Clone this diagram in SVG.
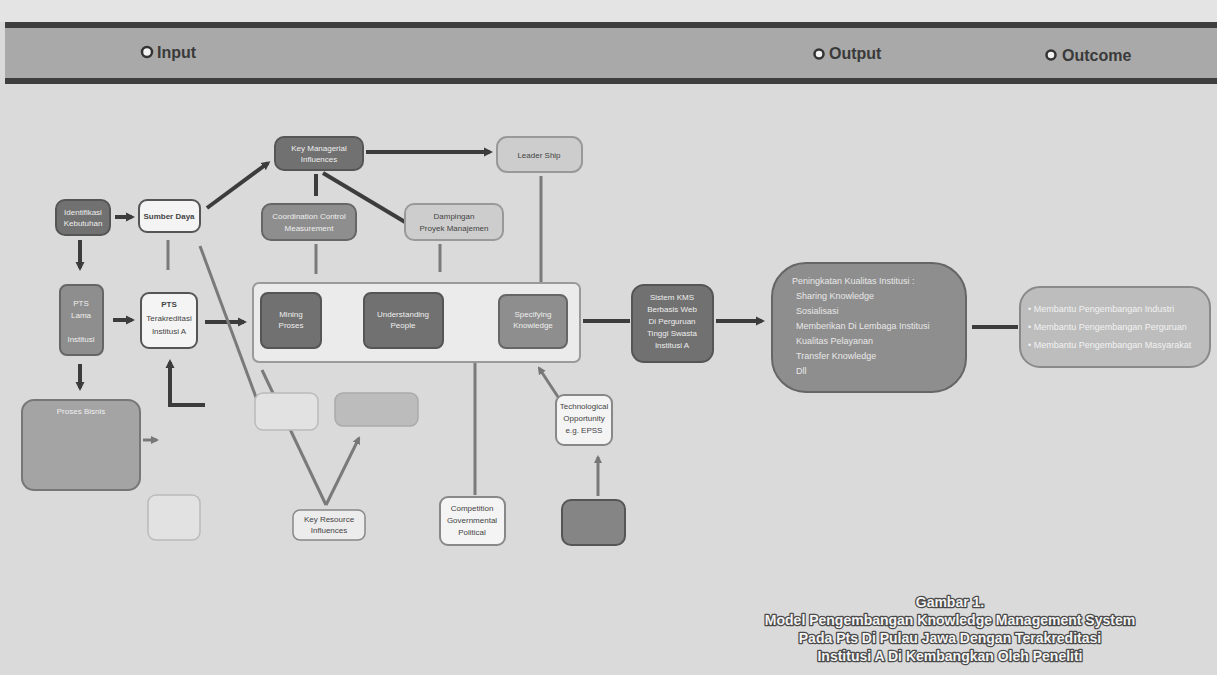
<svg xmlns="http://www.w3.org/2000/svg" width="1217" height="675" viewBox="0 0 1217 675">
<defs>
<marker id="ah" markerWidth="10" markerHeight="10" refX="6" refY="5" orient="auto" markerUnits="userSpaceOnUse">
<path d="M0,0.5 L9,5 L0,9.5 z" fill="#3c3c3c"/>
</marker>
<marker id="ahl" markerWidth="10" markerHeight="10" refX="6" refY="5" orient="auto" markerUnits="userSpaceOnUse">
<path d="M0,1 L8,5 L0,9 z" fill="#777"/>
</marker>
<style>
text{font-family:"Liberation Sans",Arial,sans-serif}
.hd{font-size:16px;font-weight:bold;fill:#3a3a3a}
.dot{fill:#f2f2f2;stroke:#333;stroke-width:2.5}
.dark{fill:#717171;stroke:#555;stroke-width:2}
.mid{fill:#8e8e8e;stroke:#666;stroke-width:2}
.light{fill:#cdcdcd;stroke:#999;stroke-width:2}
.white{fill:#f4f4f4;stroke:#555;stroke-width:2}
.faint{fill:#e2e2e2;stroke:#bbb;stroke-width:1.5}
.tw{font-size:8px;fill:#eee;text-anchor:middle}
.tk{font-size:8px;fill:#444;text-anchor:middle}
.tl{font-size:9px;fill:#e8e8e8}
.cn{stroke:#3c3c3c;stroke-width:4;fill:none}
.cl{stroke:#7a7a7a;stroke-width:3;fill:none}
.cap{font-size:14px;font-weight:bold;fill:#f4f4f4;stroke:#4a4a4a;stroke-width:2.6;stroke-linejoin:round;paint-order:stroke;text-anchor:middle}
</style>
</defs>
<rect x="0" y="0" width="1217" height="675" fill="#dadada"/>
<rect x="0" y="0" width="1217" height="22" fill="#e4e4e4"/>
<g id="header">
<rect x="5" y="27" width="1212" height="53" fill="#a9a9a9"/>
<rect x="5" y="22" width="1212" height="6" fill="#3e3e3e"/>
<rect x="5" y="78" width="1212" height="6" fill="#3e3e3e"/>
<circle class="dot" cx="147" cy="52" r="5"/>
<text class="hd" x="157" y="58">Input</text>
<circle class="dot" cx="819" cy="54" r="4.5"/>
<text class="hd" x="829" y="59">Output</text>
<circle class="dot" cx="1051" cy="55" r="4.5"/>
<text class="hd" x="1062" y="61">Outcome</text>
</g>
<g id="connectors">
<line class="cn" x1="115" y1="217" x2="132" y2="217" marker-end="url(#ah)"/>
<line class="cn" x1="207" y1="208" x2="268" y2="163" marker-end="url(#ah)"/>
<line class="cn" x1="366" y1="152" x2="490" y2="152" marker-end="url(#ah)"/>
<line class="cn" x1="316" y1="174" x2="316" y2="196"/>
<line class="cn" x1="323" y1="173" x2="405" y2="222"/>
<line class="cl" x1="316" y1="244" x2="316" y2="274"/>
<line class="cl" x1="440" y1="244" x2="440" y2="272"/>
<line class="cl" x1="541" y1="176" x2="541" y2="282"/>
<line class="cn" x1="80" y1="240" x2="80" y2="268" marker-end="url(#ah)"/>
<line class="cl" x1="168" y1="240" x2="168" y2="270"/>
<line class="cn" x1="113" y1="320" x2="132" y2="320" marker-end="url(#ah)"/>
<line class="cn" x1="205" y1="322" x2="244" y2="322" marker-end="url(#ah)"/>
<line class="cn" x1="80" y1="364" x2="80" y2="388" marker-end="url(#ah)"/>
<line class="cn" x1="332" y1="320" x2="350" y2="320" marker-end="url(#ah)"/>
<line class="cn" x1="462" y1="324" x2="480" y2="324" marker-end="url(#ah)"/>
<line class="cl" x1="475" y1="495" x2="475" y2="338" marker-end="url(#ahl)"/>
<line class="cn" x1="583" y1="321" x2="630" y2="321"/>
<line class="cn" x1="716" y1="321" x2="762" y2="321" marker-end="url(#ah)"/>
<line class="cn" x1="972" y1="327" x2="1018" y2="327"/>
<line class="cl" x1="560" y1="400" x2="539" y2="368" marker-end="url(#ahl)"/>
<line class="cl" x1="598" y1="496" x2="598" y2="457" marker-end="url(#ahl)"/>
<line class="cl" x1="262" y1="370" x2="326" y2="505"/>
<line class="cl" x1="326" y1="505" x2="359" y2="438" marker-end="url(#ahl)"/>
<line class="cl" x1="200" y1="246" x2="257" y2="400"/>
<polyline class="cn" points="205,405 170,405 170,362" marker-end="url(#ah)"/>
<line class="cl" x1="143" y1="440" x2="157" y2="440" marker-end="url(#ahl)"/>
</g>
<g id="n-key-managerial">
<rect class="dark" x="275" y="137" width="88" height="33" rx="9"/>
<text class="tw" x="319" y="151">Key Managerial</text>
<text class="tw" x="319" y="162">Influences</text>
</g>
<g id="n-leadership">
<rect class="light" x="497" y="137" width="85" height="35" rx="10"/>
<text class="tk" x="539" y="158">Leader Ship</text>
</g>
<g id="n-coordination">
<rect class="mid" x="262" y="204" width="94" height="36" rx="9"/>
<text class="tw" x="309" y="219">Coordination Control</text>
<text class="tw" x="309" y="231">Measurement</text>
</g>
<g id="n-dampak">
<rect class="light" x="405" y="204" width="98" height="36" rx="9"/>
<text class="tk" x="454" y="219">Dampingan</text>
<text class="tk" x="454" y="231">Proyek Manajemen</text>
</g>
<g id="n-identifikasi">
<rect class="dark" x="56" y="200" width="54" height="35" rx="9"/>
<text class="tw" x="83" y="215">Identifikasi</text>
<text class="tw" x="83" y="226">Kebutuhan</text>
</g>
<g id="n-sumber-daya">
<rect class="white" x="139" y="200" width="61" height="32" rx="8"/>
<text class="tk" x="169" y="219" style="font-weight:bold">Sumber Daya</text>
</g>
<g id="n-left-column">
<rect class="mid" x="60" y="285" width="43" height="70" rx="7"/>
<text class="tw" x="81" y="306">PTS</text>
<text class="tw" x="81" y="318">Lama</text>
<text class="tw" x="81" y="342">Institusi</text>
</g>
<g id="n-pts">
<rect class="white" x="141" y="293" width="56" height="55" rx="8"/>
<text class="tk" x="169" y="307" style="font-weight:bold">PTS</text>
<text class="tk" x="169" y="321">Terakreditasi</text>
<text class="tk" x="169" y="334">Institusi A</text>
</g>
<g id="n-process-container">
<rect x="253" y="283" width="327" height="79" rx="6" fill="#ebebeb" stroke="#9a9a9a" stroke-width="2"/>
</g>
<g id="n-proc-1">
<rect class="dark" x="261" y="293" width="60" height="55" rx="7"/>
<text class="tw" x="291" y="317">Mining</text>
<text class="tw" x="291" y="328">Proses</text>
</g>
<g id="n-proc-2">
<rect class="dark" x="364" y="293" width="79" height="55" rx="7"/>
<text class="tw" x="403" y="317">Understanding</text>
<text class="tw" x="403" y="328">People</text>
</g>
<g id="n-proc-3">
<rect class="mid" x="499" y="295" width="68" height="53" rx="7"/>
<text class="tw" x="533" y="317">Specifying</text>
<text class="tw" x="533" y="328">Knowledge</text>
</g>
<g id="n-kms">
<rect class="dark" x="632" y="285" width="81" height="77" rx="12"/>
<text class="tw" x="672" y="300">Sistem KMS</text>
<text class="tw" x="672" y="312">Berbasis Web</text>
<text class="tw" x="672" y="324">Di Perguruan</text>
<text class="tw" x="672" y="336">Tinggi Swasta</text>
<text class="tw" x="672" y="348">Institusi A</text>
</g>
<g id="n-output">
<rect class="mid" x="772" y="263" width="194" height="129" rx="34"/>
<text class="tl" x="792" y="284">Peningkatan Kualitas Institusi :</text>
<text class="tl" x="796" y="299">Sharing Knowledge</text>
<text class="tl" x="796" y="314">Sosialisasi</text>
<text class="tl" x="796" y="329">Memberikan Di Lembaga Institusi</text>
<text class="tl" x="796" y="344">Kualitas Pelayanan</text>
<text class="tl" x="796" y="359">Transfer Knowledge</text>
<text class="tl" x="796" y="374">Dll</text>
</g>
<g id="n-outcome">
<rect x="1020" y="287" width="190" height="80" rx="20" fill="#bdbdbd" stroke="#8a8a8a" stroke-width="2"/>
<text class="tl" x="1028" y="312" style="fill:#f2f2f2">• Membantu Pengembangan Industri</text>
<text class="tl" x="1028" y="330" style="fill:#f2f2f2">• Membantu Pengembangan Perguruan</text>
<text class="tl" x="1028" y="348" style="fill:#f2f2f2">• Membantu Pengembangan Masyarakat</text>
</g>
<g id="n-proses-bisnis">
<rect x="22" y="400" width="118" height="90" rx="12" fill="#a4a4a4" stroke="#777" stroke-width="2"/>
<text class="tw" x="81" y="414">Proses Bisnis</text>
</g>
<g id="n-faint-1">
<rect class="faint" x="255" y="393" width="63" height="37" rx="8"/>
</g>
<g id="n-faint-2">
<rect x="335" y="393" width="83" height="33" rx="8" fill="#bcbcbc" stroke="#aaa" stroke-width="1.5"/>
</g>
<g id="n-faint-3">
<rect class="faint" x="148" y="495" width="52" height="45" rx="8"/>
</g>
<g id="n-key-resource">
<rect x="293" y="510" width="72" height="30" rx="7" fill="#ececec" stroke="#888" stroke-width="1.5"/>
<text class="tk" x="329" y="522">Key Resource</text>
<text class="tk" x="329" y="533">Influences</text>
</g>
<g id="n-competition">
<rect class="white" x="440" y="497" width="65" height="48" rx="8" style="stroke:#888"/>
<text class="tk" x="472" y="511">Competition</text>
<text class="tk" x="472" y="523">Governmental</text>
<text class="tk" x="472" y="535">Political</text>
</g>
<g id="n-technological">
<rect class="white" x="556" y="395" width="56" height="50" rx="8" style="stroke:#888"/>
<text class="tk" x="584" y="409">Technological</text>
<text class="tk" x="584" y="421">Opportunity</text>
<text class="tk" x="584" y="433">e.g. EPSS</text>
</g>
<g id="n-bottom-dark">
<rect class="dark" x="562" y="500" width="63" height="45" rx="9" style="fill:#858585"/>
</g>
<g id="caption">
<text class="cap" x="950" y="607">Gambar 1.</text>
<text class="cap" x="950" y="625">Model Pengembangan Knowledge Management System</text>
<text class="cap" x="950" y="643">Pada Pts Di Pulau Jawa Dengan Terakreditasi</text>
<text class="cap" x="950" y="661">Institusi A Di Kembangkan Oleh Peneliti</text>
</g>
</svg>
